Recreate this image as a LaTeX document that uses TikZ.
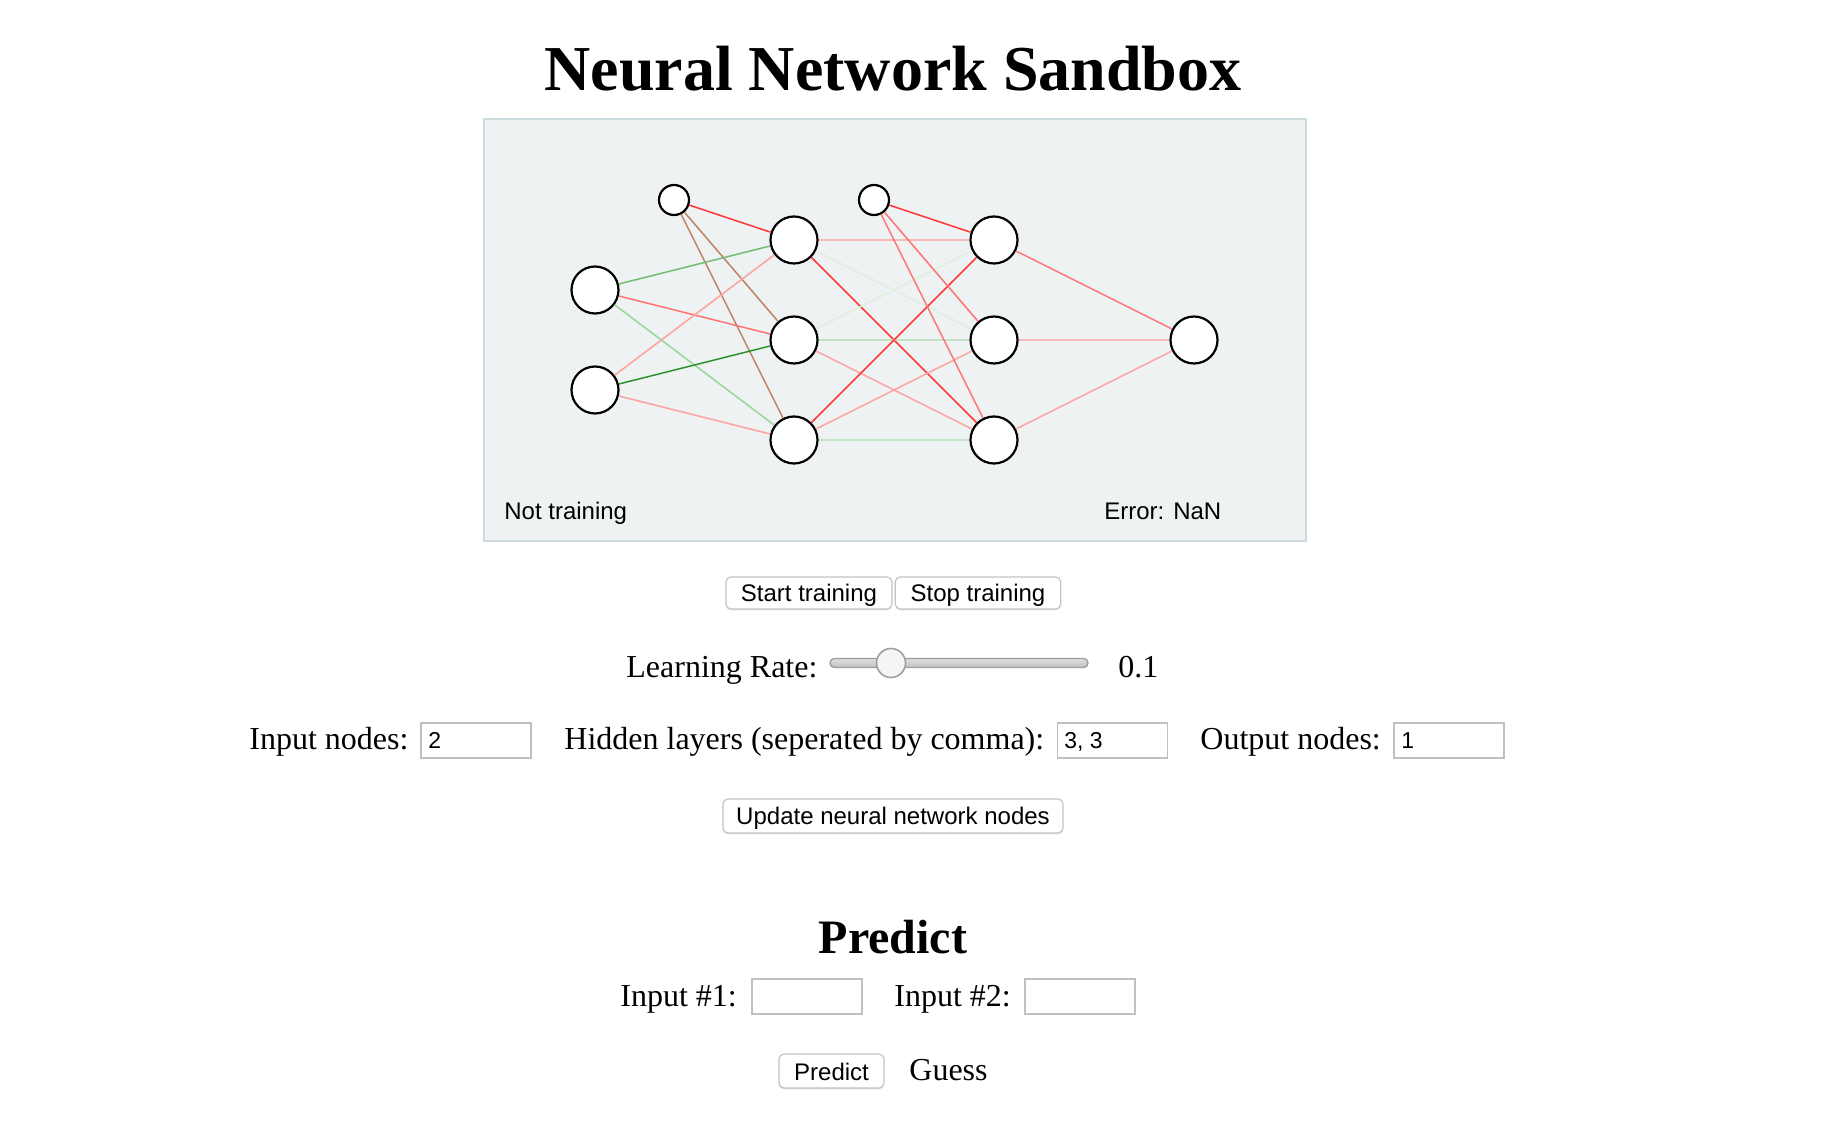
\documentclass[tikz,border=0pt]{standalone}
\usepackage{fontspec}
\setmainfont{Liberation Serif}
\setsansfont{Liberation Sans}
\usepackage{xcolor}
\usepackage{tikz}
\usetikzlibrary{arrows.meta,positioning,shapes,shadows}

\definecolor{panel}{RGB}{238,242,243}
\definecolor{panelline}{RGB}{205,219,222}
\definecolor{btnline}{RGB}{196,196,196}
\definecolor{fieldline}{RGB}{192,192,192}
\definecolor{wred}{RGB}{255,55,55}
\definecolor{wrose}{RGB}{255,115,115}
\definecolor{wpink}{RGB}{255,160,160}
\definecolor{wblush}{RGB}{248,185,185}
\definecolor{wdgreen}{RGB}{45,145,45}
\definecolor{wmgreen}{RGB}{115,188,115}
\definecolor{wlgreen}{RGB}{155,212,155}
\definecolor{wsage}{RGB}{195,225,195}
\definecolor{wpale}{RGB}{220,240,220}
\definecolor{wbrown}{RGB}{190,130,100}

\tikzset{
neuron/.style={circle,draw=black,fill=white,line width=1.1pt,minimum size=23.5pt,inner sep=0pt},
biasnode/.style={circle,draw=black,fill=white,line width=1.1pt,minimum size=15pt,inner sep=0pt},
txt/.style={inner sep=0pt,font=\fontsize{16}{19}\selectfont},
cvtxt/.style={inner sep=0pt,font=\sffamily\fontsize{12}{14}\selectfont},
btn/.style={draw=btnline,fill=white,rounded corners=2.5pt,line width=0.6pt,inner sep=0pt,minimum height=16pt,text height=9pt,text depth=0pt,font=\sffamily\fontsize{12}{14}\selectfont,drop shadow={shadow xshift=0pt,shadow yshift=-0.7pt,opacity=0.25}},
field/.style={draw=fieldline,fill=white,line width=0.7pt,inner sep=0pt,minimum width=55pt,minimum height=17.5pt},
fieldtxt/.style={inner sep=0pt,font=\sffamily\fontsize{11.5}{13}\selectfont}
}

\begin{document}
\begin{tikzpicture}[x=0.5pt,y=-0.5pt]
\fill[white] (0,0) rectangle (1822,1138);
\useasboundingbox (0,0) rectangle (1822,1138);

\node[inner sep=0pt,anchor=base,font=\fontsize{32}{38}\selectfont\bfseries] (title) at (893,91) {Neural Network Sandbox};

\draw[panelline,fill=panel,line width=1.2pt] (484,119) rectangle (1306,541);

\node[neuron] (in1) at (595,290) {};
\node[neuron] (in2) at (595,390) {};
\node[biasnode] (bias1) at (674,200) {};
\node[neuron] (hid1a) at (794,240) {};
\node[neuron] (hid1b) at (794,340) {};
\node[neuron] (hid1c) at (794,440) {};
\node[biasnode] (bias2) at (874,200) {};
\node[neuron] (hid2a) at (994,240) {};
\node[neuron] (hid2b) at (994,340) {};
\node[neuron] (hid2c) at (994,440) {};
\node[neuron] (out) at (1194,340) {};

\foreach \a/\b/\c in {bias1/hid1a/wred, bias1/hid1b/wbrown, bias1/hid1c/wbrown,
in1/hid1a/wmgreen, in1/hid1b/wrose, in1/hid1c/wlgreen,
in2/hid1a/wpink, in2/hid1b/wdgreen, in2/hid1c/wpink,
hid1a/hid2a/wblush, hid1a/hid2b/wpale, hid1a/hid2c/wred,
hid1b/hid2a/wpale, hid1b/hid2b/wsage, hid1b/hid2c/wpink,
hid1c/hid2a/wred, hid1c/hid2b/wpink, hid1c/hid2c/wsage,
bias2/hid2a/wred, bias2/hid2b/wrose, bias2/hid2c/wrose,
hid2a/out/wrose, hid2b/out/wblush, hid2c/out/wpink} {
\draw[\c,line width=0.75pt] (\a) -- (\b); }

\node[cvtxt,anchor=base west] (state) at (504,520) {Not training};
\node[cvtxt,anchor=base west] (error) at (1104,520) {Error: NaN};

\node[btn,minimum width=83pt] (start) at (809,593) {Start training};
\node[btn,minimum width=82.75pt] (stop) at (978,593) {Stop training};

\node[txt,anchor=base west] (rate) at (626,678) {Learning Rate:};
\draw[gray!75,top color=gray!25,bottom color=gray!50,rounded corners=2.2pt,line width=0.7pt] (830,658.5) rectangle (1088,667.5);
\node[circle,draw=gray!75,fill=gray!8,line width=0.8pt,minimum size=14.5pt,inner sep=0pt] (thumb) at (891,663) {};
\node[txt,anchor=base west] (rateval) at (1118,678) {0.1};

\node[txt,anchor=base west] (inlabel) at (249,750) {Input nodes:};
\node[field] (infield) at (476,740.5) {};
\node[fieldtxt,anchor=base west] (inval) at (428,749) {2};
\node[txt,anchor=base west] (hidlabel) at (564,750) {Hidden layers (seperated by comma):};
\node[field] (hidfield) at (1112.5,740.5) {};
\node[fieldtxt,anchor=base west] (hidval) at (1064,749) {3, 3};
\node[txt,anchor=base west] (outlabel) at (1200,750) {Output nodes:};
\node[field] (outfield) at (1449,740.5) {};
\node[fieldtxt,anchor=base west] (outval) at (1401,749) {1};

\node[btn,minimum width=170pt,minimum height=17pt] (update) at (893,816) {Update neural network nodes};

\node[inner sep=0pt,anchor=base,font=\fontsize{24}{29}\selectfont\bfseries] (predtitle) at (893,953) {Predict};

\node[txt,anchor=base west] (x1label) at (620,1006) {Input \#1:};
\node[field] (x1field) at (807,996.5) {};
\node[txt,anchor=base west] (x2label) at (894,1006) {Input \#2:};
\node[field] (x2field) at (1080,996.5) {};

\node[btn,minimum width=52.5pt,minimum height=17pt] (predict) at (831.5,1071) {Predict};
\node[txt,anchor=base west] (guess) at (909,1080) {Guess};
\end{tikzpicture}
\end{document}
